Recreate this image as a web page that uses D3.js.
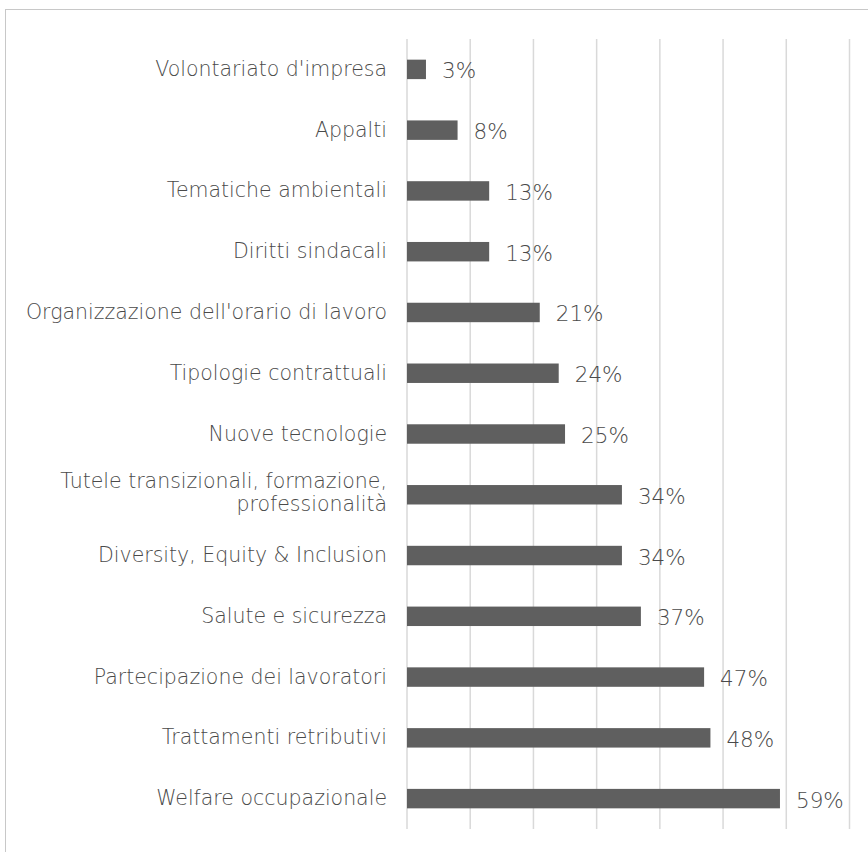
<!DOCTYPE html>
<html>
<head>
<meta charset="utf-8">
<script src="https://cdn.jsdelivr.net/npm/d3@7"></script>
<style>
  html, body { margin: 0; padding: 0; background: #fff; }
  svg { display: block; }
  text { font-family: "Century Gothic", "DejaVu Sans", sans-serif; font-weight: 300; fill: #4a4a4a; }
</style>
</head>
<body>
<svg id="chart" width="868" height="852"></svg>
<script>
// Topics discussed, top to bottom, with share of agreements (%)
const categories = [
  "Volontariato d'impresa",
  "Appalti",
  "Tematiche ambientali",
  "Diritti sindacali",
  "Organizzazione dell'orario di lavoro",
  "Tipologie contrattuali",
  "Nuove tecnologie",
  "Tutele transizionali, formazione,\nprofessionalità",
  "Diversity, Equity & Inclusion",
  "Salute e sicurezza",
  "Partecipazione dei lavoratori",
  "Trattamenti retributivi",
  "Welfare occupazionale"
];
const values = [3, 8, 13, 13, 21, 24, 25, 34, 34, 37, 47, 48, 59];
const gridTicks = [0, 10, 20, 30, 40, 50, 60, 70];

const svg = d3.select("#chart");

// outer frame
svg.append("rect")
  .attr("x", 5.5).attr("y", 9.5)
  .attr("width", 900).attr("height", 900)
  .attr("fill", "none").attr("stroke", "#c8c8c8").attr("stroke-width", 1);

const x = d3.scaleLinear().domain([0, 70]).range([407, 849.5]);
const y = d3.scaleBand().domain(categories).range([39, 829])
  .paddingInner(0.68).paddingOuter(0.34);

// vertical gridlines
svg.append("g").selectAll("line").data(gridTicks).join("line")
  .attr("x1", d => x(d)).attr("x2", d => x(d))
  .attr("y1", 39).attr("y2", 829)
  .attr("stroke", "#d9d9d9").attr("stroke-width", 1.5);

// bars
svg.append("g").selectAll("rect").data(values).join("rect")
  .attr("x", x(0))
  .attr("y", (d, i) => y(categories[i]))
  .attr("width", d => x(d) - x(0))
  .attr("height", y.bandwidth())
  .attr("fill", "#5f5f5f");

// value labels
svg.append("g").selectAll("text").data(values).join("text")
  .attr("x", d => x(d) + 16)
  .attr("y", (d, i) => y(categories[i]) + y.bandwidth() / 2 + 9)
  .attr("font-size", 21.5)
  .text(d => d + "%");

// category labels (right-aligned, multi-line where needed)
const lineH = 23;
const cat = svg.append("g").selectAll("text").data(categories).join("text")
  .attr("text-anchor", "end")
  .attr("font-size", 20.5)
  .attr("y", d => y(d) + y.bandwidth() / 2 + 6.5);
cat.each(function(d) {
  const lines = d.split("\n");
  const t = d3.select(this);
  lines.forEach((ln, k) => {
    t.append("tspan")
      .attr("x", 387)
      .attr("dy", k === 0 ? -(lines.length - 1) * (lineH / 2 + 2) : lineH)
      .text(ln);
  });
});
</script>
</body>
</html>
